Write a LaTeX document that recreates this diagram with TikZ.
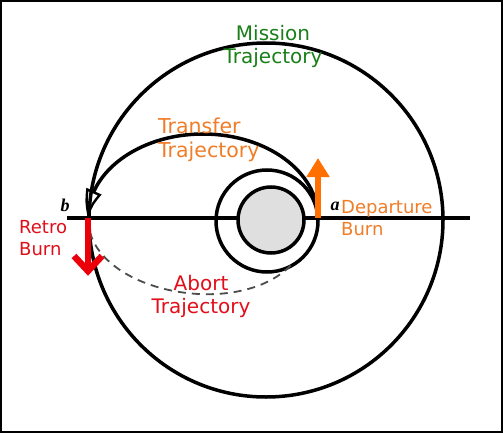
\documentclass[tikz,border=0pt]{standalone}
\usepackage{fontspec}
\setmainfont{DejaVu Sans}
\newfontfamily\ptfont{Liberation Serif}
\usetikzlibrary{arrows.meta,bending}
\definecolor{mgreen}{RGB}{25,128,25}
\definecolor{torange}{RGB}{240,125,40}
\definecolor{aorange}{RGB}{255,112,0}
\definecolor{tred}{RGB}{225,15,25}
\definecolor{ared}{RGB}{235,0,10}
\begin{document}
\begin{tikzpicture}[x=1pt,y=-1pt,
  orbit/.style={line width=3.5pt, black},
  abortline/.style={line width=1.8pt, black!70, dash pattern=on 8pt off 6pt},
  departarrow/.style={line width=6pt, aorange, -{Triangle[length=19pt,width=22pt]}},
  retroarrow/.style={line width=6.5pt, ared},
  lbl/.style={inner sep=0pt, align=left},
  bigtext/.style={font=\fontsize{20}{23}\selectfont},
  smalltext/.style={font=\fontsize{18}{22}\selectfont},
  pointlbl/.style={inner sep=0pt, font=\ptfont\fontsize{18}{18}\selectfont\bfseries\itshape}]
\useasboundingbox (0,0) rectangle (503,433);
\fill[white] (0,0) rectangle (503,433);
\draw[line width=2pt] (1,1) rectangle (502,432);
% coordinates
\coordinate (O) at (266,220);
\coordinate (inner) at (267,221);
\coordinate (earth) at (271,220);
\coordinate (lineL) at (67,218);
\coordinate (lineR) at (470,218);
\coordinate (a) at (318,218);
\coordinate (b) at (88,218);
\coordinate (departTip) at (318,158);
\coordinate (retroTip) at (88,271);
\coordinate (abortEnd) at (293,263);
% orbits
\draw[orbit] (O) circle[radius=177];
\draw[orbit] (lineL) -- (lineR);
\draw[orbit] (inner) circle[radius=51];
\draw[orbit, fill=gray!25] (earth) circle[radius=33];
% transfer
\draw[orbit, -{Triangle[open,length=28pt,width=16pt,line width=2.4pt,bend]}]
  (a) arc[start angle=0, end angle=-180, x radius=115, y radius=84];
% abort
\draw[abortline] (b) .. controls (88,292) and (240,322) .. (abortEnd);
% burns
\draw[departarrow] (a) -- (departTip);
\draw[retroarrow] (b) -- (retroTip);
\draw[retroarrow, line join=miter] (74,256) -- (retroTip) -- (102,256);
% labels
\node[lbl, bigtext, text=mgreen, align=center, anchor=north] (mission) at (273,25) {Mission\\Trajectory};
\node[lbl, bigtext, text=torange, anchor=north west, font=\fontsize{20.5}{24}\selectfont] (transfer) at (158,118) {Transfer\\Trajectory};
\node[lbl, smalltext, text=torange, anchor=north west] (departure) at (341,200) {Departure\\Burn};
\node[lbl, smalltext, text=tred, anchor=north west] (retro) at (19,220) {Retro\\Burn};
\node[lbl, bigtext, text=tred, align=center, anchor=north] (abort) at (201,275) {Abort\\Trajectory};
\node[pointlbl, anchor=base] (blbl) at (65,211) {b};
\node[pointlbl, anchor=base] (albl) at (335,210) {a};
\end{tikzpicture}
\end{document}
